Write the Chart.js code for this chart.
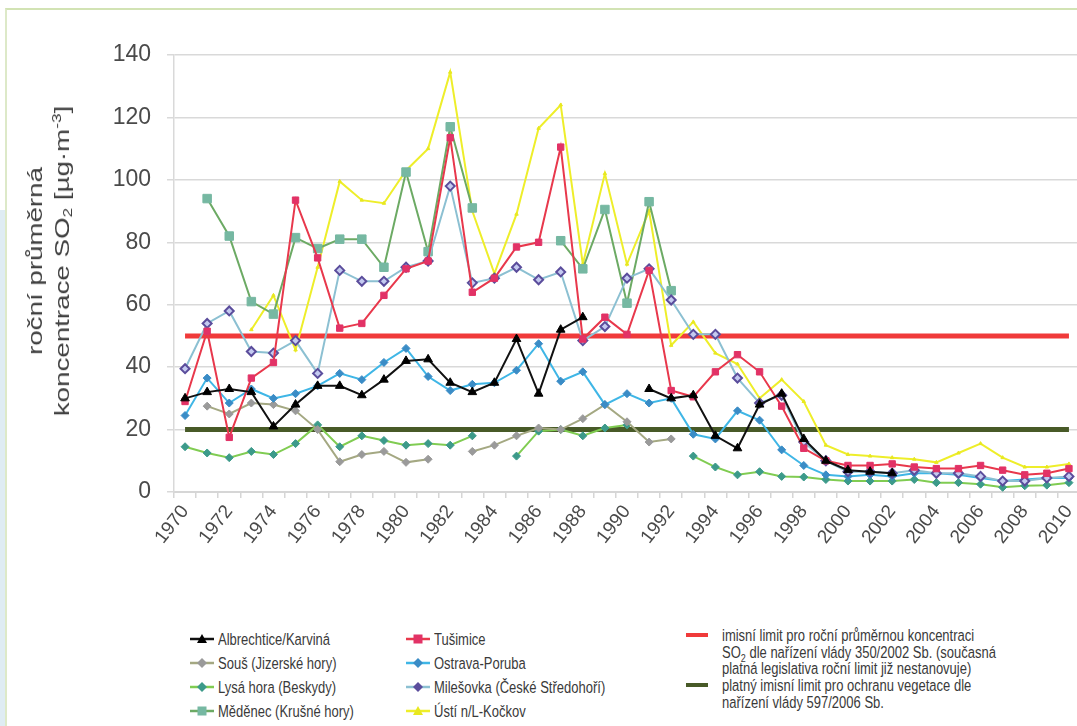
<!DOCTYPE html>
<html><head><meta charset="utf-8">
<script src="https://cdn.jsdelivr.net/npm/chart.js@4.4.1/dist/chart.umd.min.js"></script>
<style>
html,body{margin:0;padding:0;width:1077px;height:726px;overflow:hidden;background:#fff;font-family:"Liberation Sans",Arial,sans-serif;}
#frame{position:absolute;left:5px;top:8px;width:1100px;height:740px;border-top:2px solid #d2e3b4;border-left:2px solid #dde9c8;box-sizing:border-box;}
#strip{position:absolute;left:0;top:210px;width:5px;height:516px;background:#dfecf3;}
#wrap{position:absolute;left:0;top:0;width:1090px;height:590px;}
#ytitle{position:absolute;left:-112px;top:234px;width:320px;height:54px;line-height:27px;text-align:center;font-size:21px;color:#404040;transform:rotate(-90deg) scaleX(1.32);white-space:nowrap;}
.lg{position:absolute;font-size:13px;color:#3a3a3a;white-space:nowrap;line-height:16px;}
.lg svg{position:absolute;left:0;top:0;}
.tx{display:inline-block;transform:scaleY(1.25);transform-origin:left center;}
</style></head>
<body>
<div id="frame"></div>
<div id="strip"></div>
<div id="wrap"><canvas id="c"></canvas></div>
<div id="ytitle">roční průměrná<br>koncentrace SO<sub style="font-size:13px;vertical-align:-3px;line-height:0">2</sub> [µg·m<sup style="font-size:13px;vertical-align:8px;line-height:0">-3</sup>]</div>
<div id="legend"></div>
<script>
// ---- data ----
const years = ['1970','1971','1972','1973','1974','1975','1976','1977','1978','1979','1980','1981','1982','1983','1984','1985','1986','1987','1988','1989','1990','1991','1992','1993','1994','1995','1996','1997','1998','1999','2000','2001','2002','2003','2004','2005','2006','2007','2008','2009','2010'];
const albrechtice = [30,32,33,32,21,28,34,34,31,36,42,42.5,35,32,35,49,31.5,52,56,null,null,33,30,31,18,14,28,31.5,17,10,7,6.5,6,null,null,null,null,null,null,null,null];
const tusimice = [29,51.5,17.5,36.5,41.5,93.5,75,52.5,54,63,71.5,74,113.5,64,68.5,78.5,80,110.5,49,56,50.5,71,32.5,30.5,38.5,44,38.5,27.5,14,10,8.5,8.5,9,8,7.5,7.5,8.5,7,5.5,6,7.5];
const sous = [null,27.5,25,28.5,28,26,20,9.7,12,13,9.5,10.5,null,13,15,18,20.5,20,23.5,28,22.5,16,17,null,null,null,null,null,null,null,null,null,null,null,null,null,null,null,null,null,null];
const ostrava = [24.5,36.5,28.5,33,30,31.5,34,38,36,41.5,46,37,32.5,34.5,35,39,47.5,35.5,38.5,28,31.5,28.5,30,18.5,17,26,23,13.5,8.5,5.5,5,5.5,5,6,6,5.5,4.5,3.5,4,4.5,4.5];
const lysaHora = [14.5,12.5,11,13,12,15.5,21.5,14.5,18,16.5,15,15.5,15,18,null,11.5,19.5,20,18,20.5,21.5,null,null,11.5,8,5.5,6.5,5,4.8,4,3.5,3.5,3.5,4,3,3,2.5,1.5,2,2.2,3];
const milesovka = [39.5,54,58,45,44.5,48.5,38,71,67.5,67.5,72,74,98,67,68.5,72,68,70.5,48.5,53,68.5,71.5,61.5,50.5,50.5,36.5,28.5,31,16,10,6.5,6.5,6,7,6,6,5,3.5,3.5,4.5,5];
const medenec = [null,94,82,61,57,81.5,78,81,81,72,102.5,77,117,91,null,null,null,80.5,71.5,90.5,60.5,93,64.5,null,null,null,null,null,null,null,null,null,null,null,null,null,null,null,null,null,null];
const usti = [null,null,null,52,63,45.5,72,99.5,93.5,92.5,103,110,134.5,90,70,89,116.5,124,73,102,73,90,47,54.5,44.5,41,30,36,29,15,12,11.5,11,10.5,9.5,12.5,15.5,11,8,8,9];
const limitAnnual = 50;      // imisní limit 350/2002 Sb.
const limitVegetation = 20;  // limit pro ochranu vegetace 597/2006 Sb.
const yTicks = [0,20,40,60,80,100,120,140];

const limitAnnualLine = years.map(() => limitAnnual);
const limitVegLine = years.map(() => limitVegetation);

function series(label, data, line, pt, style, r, ptBorder, bw) {
  return {label, data, borderColor: line, backgroundColor: pt, pointStyle: style, pointRadius: r,
    pointBorderColor: ptBorder || pt, pointBorderWidth: bw || 1, borderWidth: 2, spanGaps: false, tension: 0};
}

const datasets = [
  series('Albrechtice/Karviná', albrechtice, '#111111', '#000000', 'triangle', 5),
  series('Tušimice', tusimice, '#e8384c', '#e23266', 'rect', 4.5),
  series('Milešovka (České Středohoří)', milesovka, '#8cc0d2', '#c4caf0', 'rectRot', 4.5, '#5b4d9c', 2),
  series('Ostrava-Poruba', ostrava, '#3fb6e6', '#3a8cc6', 'rectRot', 4),
  series('Souš (Jizerské hory)', sous, '#a4a882', '#9a9a9a', 'rectRot', 4),
  series('Lysá hora (Beskydy)', lysaHora, '#80cc52', '#3c9a8a', 'rectRot', 4),
  series('Měděnec (Krušné hory)', medenec, '#6caa64', '#76b8a2', 'rect', 6),
  series('Ústí n/L-Kočkov', usti, '#eeee2a', '#e8e820', 'triangle', 2),
  {label:'limit 350/2002', data: limitAnnualLine, borderColor:'#f03a3a', borderWidth:5, pointRadius:0},
  {label:'limit 597/2006', data: limitVegLine, borderColor:'#485a28', borderWidth:5, pointRadius:0}
];

new Chart(document.getElementById('c'), {
  type: 'line',
  data: {labels: years, datasets},
  options: {
    responsive: true, maintainAspectRatio: false, animation: false,
    layout: {padding: {top: 55, left: 0, right: 6, bottom: 0}},
    plugins: {legend: {display: false}, tooltip: {enabled: false}},
    scales: {
      x: {
        offset: true,
        grid: {offset: true, drawOnChartArea: false, drawTicks: true, tickLength: 6, color: '#d6d6d6', lineWidth: 1.5},
        border: {color: '#d6d6d6', width: 2},
        ticks: {autoSkip: false, maxRotation: 52, minRotation: 52, padding: 3, color: '#4a4a4a',
          font: {size: 19, family: '"Liberation Sans", Arial, sans-serif'},
          callback: (v, i) => (i % 2 === 0 ? years[i] : '')},
        afterFit: s => { s.height = 98; }
      },
      y: {
        min: 0, max: 140,
        afterBuildTicks: s => { s.ticks = yTicks.map(v => ({value: v})); },
        grid: {color: '#d9d9d9', lineWidth: 1.5, tickLength: 7},
        border: {color: '#d9d9d9', width: 1.5},
        ticks: {padding: 16, color: '#4a4a4a', font: {size: 23, family: '"Liberation Sans", Arial, sans-serif'}},
        afterFit: s => { s.width = 174; }
      }
    }
  }
});

// ---- legend (HTML) ----
const legendItems = [
  {x:190, y:640, text:'Albrechtice/Karviná', line:'#111', pt:'#000', shape:'tri'},
  {x:190, y:664, text:'Souš (Jizerské hory)', line:'#a4a882', pt:'#9a9a9a', shape:'dia'},
  {x:190, y:688, text:'Lysá hora (Beskydy)', line:'#80cc52', pt:'#3c9a8a', shape:'dia'},
  {x:190, y:712, text:'Měděnec (Krušné hory)', line:'#6caa64', pt:'#76b8a2', shape:'sq'},
  {x:406, y:640, text:'Tušimice', line:'#e8384c', pt:'#e23266', shape:'sq'},
  {x:406, y:664, text:'Ostrava-Poruba', line:'#3fb6e6', pt:'#3a8cc6', shape:'dia'},
  {x:406, y:688, text:'Milešovka (České Středohoří)', line:'#8cc0d2', pt:'#5b4d9c', shape:'dia'},
  {x:406, y:712, text:'Ústí n/L-Kočkov', line:'#eeee2a', pt:'#e8e820', shape:'tri'}
];
const lg = document.getElementById('legend');
function glyph(it) {
  let m = '';
  if (it.shape === 'tri') m = `<polygon points="12,2 17,11 7,11" fill="${it.pt}"/>`;
  if (it.shape === 'dia') m = `<polygon points="12,2 17,7 12,12 7,7" fill="${it.pt}"/>`;
  if (it.shape === 'sq') m = `<rect x="7.5" y="2.5" width="9" height="9" fill="${it.pt}"/>`;
  return `<svg width="24" height="14"><line x1="0" y1="7" x2="24" y2="7" stroke="${it.line}" stroke-width="2.5"/>${m}</svg>`;
}
legendItems.forEach(it => {
  const d = document.createElement('div');
  d.className = 'lg';
  d.style.left = it.x + 'px'; d.style.top = (it.y - 8) + 'px';
  d.innerHTML = glyph(it) + `<span class="tx" style="position:absolute;left:28px;top:0">${it.text}</span>`;
  lg.appendChild(d);
});
const lim = [
  {y:636, color:'#f03a3a', lines:['imisní limit pro roční průměrnou koncentraci','SO<sub style="font-size:9px;line-height:0">2</sub> dle nařízení vlády 350/2002 Sb. (současná','platná legislativa roční limit již nestanovuje)']},
  {y:686, color:'#485a28', lines:['platný imisní limit pro ochranu vegetace dle','nařízení vlády 597/2006 Sb.']}
];
lim.forEach(it => {
  const d = document.createElement('div');
  d.className = 'lg';
  d.style.left = '686px'; d.style.top = (it.y - 8) + 'px';
  d.innerHTML = `<svg width="24" height="14"><line x1="0" y1="7" x2="22" y2="7" stroke="${it.color}" stroke-width="4"/></svg>` +
    `<div style="position:absolute;left:36px;top:0;line-height:16.5px">${it.lines.map(t => '<span class="tx">' + t + '</span>').join('<br>')}</div>`;
  lg.appendChild(d);
});
</script>
</body></html>
